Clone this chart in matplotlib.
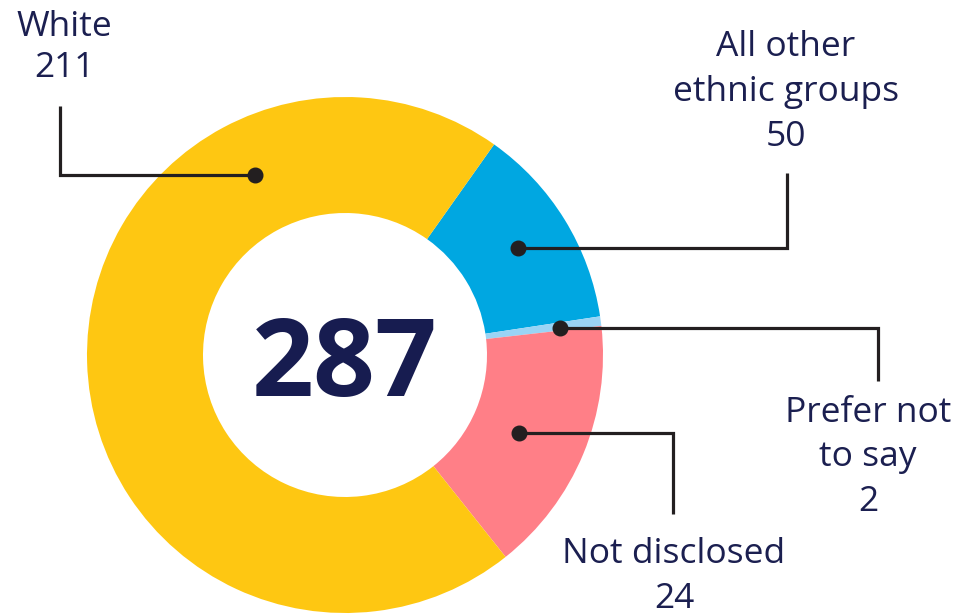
import matplotlib
matplotlib.use('Agg')
import matplotlib.pyplot as plt
import numpy as np

# ---- data ----
categories = ['All other ethnic groups', 'Prefer not to say', 'Not disclosed', 'White']
label_lines = [['All other', 'ethnic groups'], ['Prefer not', 'to say'], ['Not disclosed'], ['White']]
counts = [50, 2, 24, 211]
# share of the ring as drawn in the picture (%)
slice_share = [12.8, 0.6, 16.1, 70.5]
colors = ['#00A7E1', '#9AD4F5', '#FF7F87', '#FEC712']
total_label = '287'

# ---- layout (pixels, image coordinates: y down) ----
W, H = 956, 614
CX, CY = 345, 355
R_OUT, R_IN = 258, 142
# leader dot: (clockwise angle from top, radius)
dot_polar = [(58.2, 204), (82.9, 217), (114.2, 191), (333.4, 201)]
# elbow and end of leader line
elbows = [[(787, 248), (787, 173)],
          [(878, 328), (878, 381)],
          [(673, 433), (673, 514)],
          [(60, 175), (60, 106)]]
# text: centre x, first baseline, line spacing
text_pos = [(786, 56, 45), (868, 422, 44.5), (674, 563, 45), (64, 36, 41)]

TXT = '#1B1F50'
LINE = '#231F20'

fig = plt.figure(figsize=(W / 100, H / 100), dpi=100)
ax = fig.add_axes([0, 0, 1, 1])


def Y(y):
    return H - y


ax.pie(slice_share, colors=colors, startangle=90 - 35.3, counterclock=False,
       radius=R_OUT, center=(CX, Y(CY)),
       wedgeprops=dict(width=R_OUT - R_IN, linewidth=0), frame=True)
ax.set_xlim(0, W)
ax.set_ylim(0, H)
ax.set_aspect('equal')
ax.axis('off')

for i in range(len(categories)):
    ang, rad = dot_polar[i]
    t = np.deg2rad(ang)
    dx, dy = CX + rad * np.sin(t), CY - rad * np.cos(t)
    pts = [(dx, elbows[i][0][1])] + elbows[i]
    xs = [p[0] for p in pts]
    ys = [Y(p[1]) for p in pts]
    ax.plot(xs, ys, color=LINE, lw=2.3, solid_joinstyle='miter', solid_capstyle='butt', zorder=3)
    ax.plot([xs[0]], [ys[0]], 'o', color=LINE, ms=10.5, zorder=4)
    tx, ty, sp = text_pos[i]
    lines = label_lines[i] + [str(counts[i])]
    for k, ln in enumerate(lines):
        ax.text(tx, Y(ty + k * sp), ln, ha='center', va='baseline', color=TXT,
                fontsize=25.5, family='Open Sans')

ax.text(CX, Y(CY), total_label, ha='center', va='center_baseline', color='#171C50',
        fontsize=78, fontweight='bold', family='Open Sans')

fig.savefig('out.png', dpi=100)
